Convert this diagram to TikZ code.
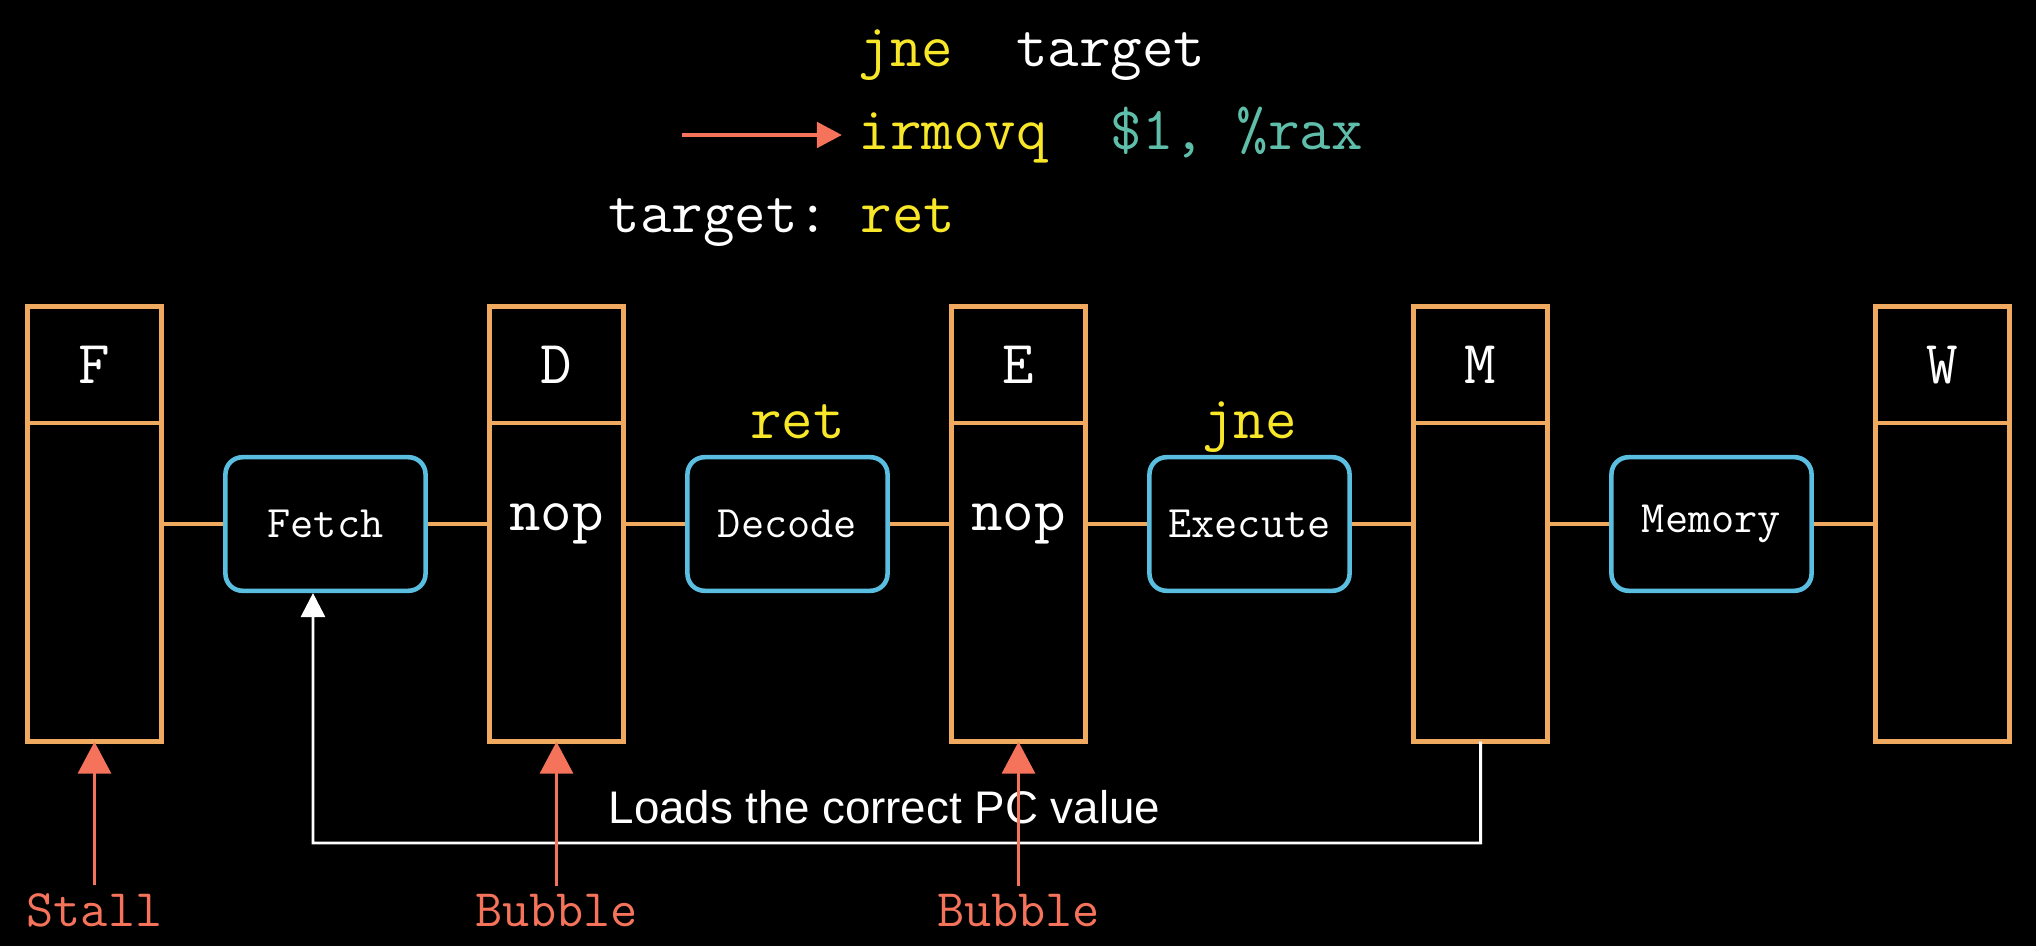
\documentclass[tikz,border=0pt]{standalone}
\usepackage{fontspec}
\newfontfamily\helv{Liberation Sans}
\usetikzlibrary{positioning,arrows.meta}
\definecolor{regorange}{RGB}{240,170,95}
\definecolor{stageblue}{RGB}{90,190,225}
\definecolor{codeyellow}{RGB}{248,230,40}
\definecolor{codeteal}{RGB}{95,190,170}
\definecolor{ctrlred}{RGB}{245,115,90}
\tikzset{
  reghead/.style={draw=regorange,line width=1.3pt,outer sep=0pt,minimum width=1.34cm,minimum height=1.165cm,text=white,font=\ttfamily\fontsize{17.4}{20}\selectfont},
  regbody/.style={reghead,minimum height=3.185cm},
  stagebox/.style={draw=stageblue,line width=1.3pt,rounded corners=0.17cm,minimum width=2cm,minimum height=1.335cm,text=white,font=\ttfamily\fontsize{12.8}{15}\selectfont},
  wire/.style={regorange,line width=1.2pt},
  asm/.style={inner sep=0pt,text=white,font=\ttfamily\fontsize{17.4}{20}\selectfont},
  ctrltext/.style={inner sep=0.07cm,text=ctrlred,font=\ttfamily\fontsize{15}{18}\selectfont},
  ctrl/.style={ctrlred,line width=1pt,-{Triangle[length=0.32cm,width=0.33cm]}},
  ptr/.style={ctrlred,line width=1.4pt,-{Triangle[length=0.25cm,width=0.25cm]}},
  fb/.style={white,line width=0.85pt,-{Triangle[length=0.24cm,width=0.24cm]}},
  note/.style={inner sep=0pt,text=white,font=\helv\fontsize{13}{15}\selectfont}
}
\begin{document}
\begin{tikzpicture}[x=0.01cm,y=-0.01cm]
\fill[black] (0,0) rectangle (2036,946);
% program listing
\node[asm,anchor=base west,text=codeyellow] (jne) at (858,67) {jne\ \ \textcolor{white}{target}};
\node[asm,anchor=base west,text=codeyellow] (irmovq) at (858,150) {irmovq\ \ \textcolor{codeteal}{\$1,\ \%rax}};
\node[asm,anchor=base west] (tgt) at (608,233) {target:\ \textcolor{codeyellow}{ret}};
\coordinate (pc) at (682,135);
\draw[ptr,shorten >=0.16cm] (pc) -- (pc -| irmovq.west);
% pipeline registers
\foreach \n/\x/\t in {f/94.5/F,d/556.5/D,e/1018.5/E,m/1480.5/M,w/1942.5/W}{
  \node[reghead] (h\n) at (\x,364.75) {\t};
  \node[regbody,below=0pt of h\n] (b\n) {};
}
% stages
\foreach \n/\x/\l/\a/\b in {fetch/325.5/Fetch/f/d,decode/787.5/Decode/d/e,execute/1249.5/Execute/e/m,memory/1711.5/Memory/m/w}{
  \node[stagebox] (\n) at (\x,524) {\l};
  \draw[wire] (b\a.east |- \n.west) -- (\n.west) (\n.east) -- (b\b.west |- \n.east);
}
\node[asm] (nopd) at (hd |- fetch) {nop};
\node[asm] (nope) at (he |- fetch) {nop};
\node[asm,text=codeyellow,anchor=base] (retlbl) at ([xshift=0.1cm,yshift=0.16cm]decode.north) {ret};
\node[asm,text=codeyellow,anchor=base] (jnelbl) at ([yshift=0.16cm]execute.north) {jne};
% feedback from M
\coordinate (fbleft) at (313,843);
\draw[fb] (bm.south) |- (fbleft) -- ([xshift=-0.125cm]fetch.south);
\node[note,anchor=base west] (loads) at (608,823) {Loads the correct PC value};
% control signals
\foreach \n/\x/\r/\l in {stall/94.5/f/Stall,bubd/556.5/d/Bubble,bube/1018.5/e/Bubble}{
  \node[ctrltext,anchor=base] (\n) at (\x,926) {\l};
  \draw[ctrl] (\n) -- (b\r);
}
\end{tikzpicture}
\end{document}
